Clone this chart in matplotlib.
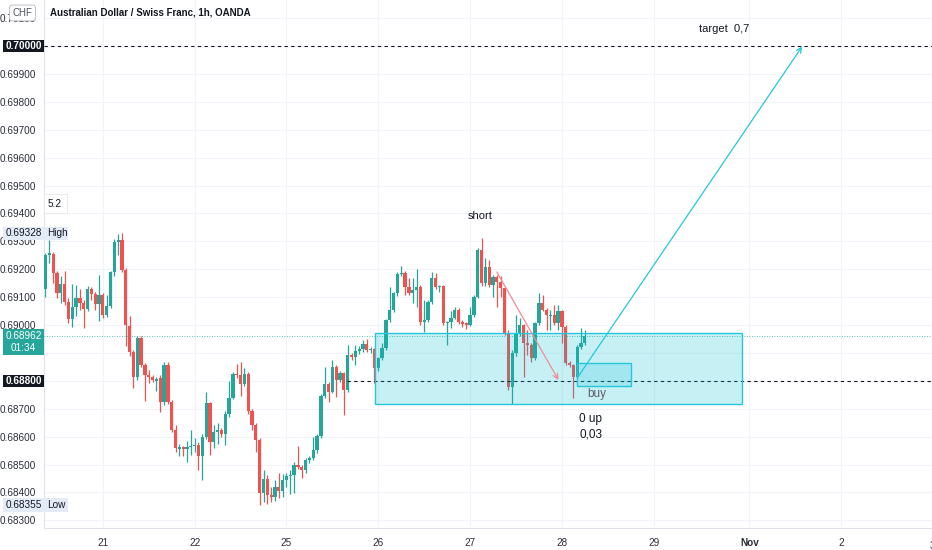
import numpy as np
import matplotlib
matplotlib.use("Agg")
import matplotlib.pyplot as plt
from matplotlib.patches import Rectangle

plt.rcParams['font.family'] = ['Liberation Sans Narrow', 'Liberation Sans', 'DejaVu Sans']

# AUD/CHF 1h candles, Oct 20 09:00 .. Oct 28 06:00
opens = [0.69129, 0.69251, 0.69256, 0.69187, 0.69115, 0.69147, 0.69082, 0.69022, 0.69064, 0.69097,
         0.69079, 0.69057, 0.69129, 0.69111, 0.69075, 0.69108, 0.69036, 0.69068, 0.69190, 0.69297,
         0.69304, 0.69197, 0.68997, 0.68903, 0.68814, 0.68953, 0.68856, 0.68821, 0.68814, 0.68800,
         0.68810, 0.68724, 0.68856, 0.68724, 0.68624, 0.68557, 0.68562, 0.68555, 0.68562, 0.68568,
         0.68570, 0.68529, 0.68598, 0.68720, 0.68580, 0.68616, 0.68622, 0.68610, 0.68680, 0.68740,
         0.68826, 0.68820, 0.68790, 0.68826, 0.68690, 0.68641, 0.68588, 0.68397, 0.68447, 0.68390,
         0.68385, 0.68418, 0.68405, 0.68444, 0.68458, 0.68462, 0.68498, 0.68492, 0.68480, 0.68516,
         0.68522, 0.68552, 0.68602, 0.68745, 0.68789, 0.68761, 0.68851, 0.68803, 0.68827, 0.68767,
         0.68892, 0.68886, 0.68906, 0.68915, 0.68932, 0.68910, 0.68913, 0.68845, 0.68881, 0.68918,
         0.69018, 0.69054, 0.69114, 0.69182, 0.69185, 0.69137, 0.69114, 0.69125, 0.69137, 0.69012,
         0.69018, 0.69083, 0.69167, 0.69137, 0.69140, 0.69006, 0.69012, 0.69025, 0.69054, 0.69012,
         0.69006, 0.69000, 0.69036, 0.69101, 0.69269, 0.69149, 0.69209, 0.69143, 0.69173, 0.69155,
         0.69131, 0.68970, 0.68779, 0.68899, 0.68968, 0.69000, 0.68934, 0.68928, 0.68880, 0.69006,
         0.69080, 0.69054, 0.69032, 0.69036, 0.69006, 0.69050, 0.68994, 0.68863, 0.68857, 0.68815,
         0.68922, 0.68937]
highs = [0.69258, 0.69305, 0.69262, 0.69195, 0.69175, 0.69195, 0.69097, 0.69147, 0.69145, 0.69130,
         0.69090, 0.69140, 0.69137, 0.69120, 0.69180, 0.69115, 0.69108, 0.69195, 0.69308, 0.69326,
         0.69328, 0.69204, 0.69032, 0.68910, 0.68960, 0.68960, 0.68863, 0.68838, 0.68820, 0.68815,
         0.68820, 0.68868, 0.68868, 0.68730, 0.68641, 0.68575, 0.68568, 0.68584, 0.68624, 0.68595,
         0.68580, 0.68610, 0.68760, 0.68725, 0.68640, 0.68648, 0.68630, 0.68690, 0.68800, 0.68830,
         0.68862, 0.68868, 0.68845, 0.68830, 0.68700, 0.68650, 0.68595, 0.68480, 0.68462, 0.68420,
         0.68444, 0.68470, 0.68465, 0.68470, 0.68480, 0.68510, 0.68566, 0.68500, 0.68525, 0.68530,
         0.68600, 0.68610, 0.68752, 0.68850, 0.68795, 0.68874, 0.68855, 0.68835, 0.68832, 0.68928,
         0.68900, 0.68928, 0.68925, 0.68945, 0.68950, 0.68920, 0.68918, 0.68885, 0.68935, 0.69022,
         0.69137, 0.69118, 0.69190, 0.69211, 0.69195, 0.69167, 0.69170, 0.69199, 0.69142, 0.69090,
         0.69088, 0.69191, 0.69188, 0.69145, 0.69145, 0.69015, 0.69050, 0.69066, 0.69060, 0.69018,
         0.69012, 0.69066, 0.69108, 0.69275, 0.69311, 0.69239, 0.69233, 0.69180, 0.69180, 0.69176,
         0.69135, 0.68982, 0.68910, 0.69036, 0.69025, 0.69005, 0.68982, 0.68935, 0.69012, 0.69114,
         0.69107, 0.69060, 0.69054, 0.69072, 0.69072, 0.69055, 0.69000, 0.68870, 0.68862, 0.68928,
         0.68989, 0.68982]
lows = [0.69100, 0.69222, 0.69150, 0.69098, 0.69079, 0.69072, 0.69007, 0.68993, 0.69032, 0.69055,
        0.68989, 0.69050, 0.69090, 0.69055, 0.69014, 0.69025, 0.69030, 0.69060, 0.69175, 0.69252,
        0.69190, 0.68925, 0.68889, 0.68774, 0.68803, 0.68849, 0.68728, 0.68792, 0.68796, 0.68762,
        0.68689, 0.68715, 0.68718, 0.68615, 0.68545, 0.68530, 0.68530, 0.68510, 0.68534, 0.68545,
        0.68480, 0.68444, 0.68590, 0.68534, 0.68560, 0.68574, 0.68600, 0.68570, 0.68670, 0.68735,
        0.68810, 0.68745, 0.68780, 0.68680, 0.68624, 0.68545, 0.68355, 0.68364, 0.68360, 0.68365,
        0.68370, 0.68380, 0.68385, 0.68420, 0.68395, 0.68398, 0.68485, 0.68450, 0.68470, 0.68505,
        0.68515, 0.68540, 0.68595, 0.68740, 0.68725, 0.68755, 0.68743, 0.68795, 0.68677, 0.68760,
        0.68875, 0.68856, 0.68895, 0.68905, 0.68905, 0.68900, 0.68792, 0.68835, 0.68875, 0.68910,
        0.69010, 0.69045, 0.69105, 0.69175, 0.69107, 0.69108, 0.69078, 0.69066, 0.69000, 0.68976,
        0.69010, 0.69075, 0.69130, 0.69120, 0.69000, 0.68928, 0.68990, 0.69020, 0.69005, 0.68994,
        0.68985, 0.68995, 0.69030, 0.69095, 0.69140, 0.69140, 0.69135, 0.69101, 0.69066, 0.69101,
        0.68965, 0.68767, 0.68716, 0.68890, 0.68960, 0.68815, 0.68892, 0.68868, 0.68875, 0.69000,
        0.69050, 0.68982, 0.68982, 0.69000, 0.68982, 0.68935, 0.68858, 0.68850, 0.68737, 0.68810,
        0.68915, 0.68930]
closes = [0.69251, 0.69258, 0.69187, 0.69115, 0.69147, 0.69082, 0.69022, 0.69064, 0.69097, 0.69079,
          0.69057, 0.69129, 0.69111, 0.69075, 0.69108, 0.69036, 0.69068, 0.69190, 0.69297, 0.69304,
          0.69197, 0.69000, 0.68903, 0.68814, 0.68953, 0.68856, 0.68821, 0.68814, 0.68803, 0.68806,
          0.68724, 0.68856, 0.68724, 0.68624, 0.68559, 0.68562, 0.68555, 0.68562, 0.68568, 0.68570,
          0.68529, 0.68598, 0.68720, 0.68580, 0.68616, 0.68622, 0.68610, 0.68680, 0.68740, 0.68826,
          0.68820, 0.68790, 0.68826, 0.68690, 0.68641, 0.68588, 0.68397, 0.68447, 0.68390, 0.68385,
          0.68418, 0.68405, 0.68444, 0.68458, 0.68462, 0.68498, 0.68492, 0.68480, 0.68516, 0.68522,
          0.68552, 0.68602, 0.68745, 0.68789, 0.68761, 0.68851, 0.68803, 0.68827, 0.68767, 0.68892,
          0.68886, 0.68906, 0.68915, 0.68932, 0.68910, 0.68913, 0.68845, 0.68881, 0.68918, 0.69018,
          0.69054, 0.69114, 0.69182, 0.69185, 0.69137, 0.69114, 0.69125, 0.69137, 0.69012, 0.69018,
          0.69083, 0.69167, 0.69137, 0.69140, 0.69006, 0.69012, 0.69025, 0.69054, 0.69012, 0.69002,
          0.69000, 0.69036, 0.69101, 0.69269, 0.69149, 0.69209, 0.69143, 0.69173, 0.69155, 0.69131,
          0.68970, 0.68779, 0.68899, 0.68968, 0.69000, 0.68934, 0.68928, 0.68880, 0.69006, 0.69080,
          0.69054, 0.69036, 0.69036, 0.69006, 0.69050, 0.68994, 0.68863, 0.68857, 0.68815, 0.68922,
          0.68937, 0.68962]

# day labels -> bar index of the first hour of that day
day_labels = ['21', '22', '25', '26', '27', '28', '29', 'Nov', '2', '3']
day_index = [15, 39, 63, 87, 111, 135, 159, 184, 208, 232]

price_ticks = np.round(np.arange(0.683, 0.7015, 0.001), 3)

high_price = 0.69328
low_price = 0.68355
target_price = 0.70000
support_price = 0.68800
last_price = closes[-1]

# drawings
zone_x = [86.1, 182.1]
zone_y = [0.68717, 0.68971]
buy_x = [138.95, 153.1]
buy_y = [0.68781, 0.68864]
short_arrow = [(118.0, 0.69190), (134.1, 0.68803)]
long_arrow = [(139.0, 0.68810), (197.8, 0.69998)]

green = '#26a69a'
red = '#ef5350'
grid_c = '#f0f3fa'
text_c = '#131722'
axis_text = '#2a2e39'

fig = plt.figure(figsize=(9.32, 5.5), dpi=100)
ax = fig.add_axes([44 / 932, 22 / 550, 888 / 932, 528 / 550])
ax.set_xlim(-0.39, 231.76)
ax.set_ylim(0.682724, 0.701649)

# grid
for p in price_ticks:
    ax.axhline(p, color=grid_c, lw=0.8, zorder=0)
for d in day_index:
    ax.axvline(d, color=grid_c, lw=0.8, zorder=0)

# candles
idx = np.arange(len(opens))
o = np.array(opens)
c = np.array(closes)
cols = [green if cc >= oo else red for oo, cc in zip(o, c)]
ax.vlines(idx, lows, highs, colors=cols, lw=0.9, zorder=2)
body = np.maximum(np.abs(c - o), 0.00003)
ax.bar(idx, body, bottom=np.minimum(o, c), width=0.85, color=cols, lw=0, zorder=3)

# horizontal levels
ax.axhline(target_price, color=text_c, lw=0.8, ls=(0, (3, 3)), zorder=4)
ax.hlines(support_price, 78.8, 231.76, color=text_c, lw=0.8, ls=(0, (3, 3)), zorder=4)
ax.axhline(last_price, color=green, lw=0.6, ls=(0, (1, 2)), zorder=4)

# zones
ax.add_patch(Rectangle((zone_x[0], zone_y[0]), zone_x[1] - zone_x[0], zone_y[1] - zone_y[0],
                       fc=(0.0, 0.74, 0.83, 0.22), ec='#26c6da', lw=1, zorder=5))
ax.add_patch(Rectangle((buy_x[0], buy_y[0]), buy_x[1] - buy_x[0], buy_y[1] - buy_y[0],
                       fc=(0.0, 0.74, 0.83, 0.18), ec='#26c6da', lw=1, zorder=5))

# arrows
ax.annotate('', xy=short_arrow[1], xytext=short_arrow[0],
            arrowprops=dict(arrowstyle='->', color='#f28b95', lw=0.9, shrinkA=0, shrinkB=0,
                            mutation_scale=9), zorder=6)
ax.annotate('', xy=long_arrow[1], xytext=long_arrow[0],
            arrowprops=dict(arrowstyle='->', color='#26c6da', lw=0.9, shrinkA=0, shrinkB=0,
                            mutation_scale=9), zorder=6)

# texts on chart
ax.text(113.6, 0.69391, 'short', ha='center', va='center', fontsize=8, color=text_c)
ax.text(177.4, 0.70061, 'target  0,7', ha='center', va='center', fontsize=8, color=text_c)
ax.text(141.6, 0.68753, 'buy', ha='left', va='center', fontsize=8.5, color='#5d606b', zorder=7)
ax.text(139.5, 0.68663, '0 up', ha='left', va='center', fontsize=8.5, color=text_c)
ax.text(139.5, 0.68609, '0,03', ha='left', va='center', fontsize=8.5, color=text_c)

# axes styling
for s in ['top', 'right']:
    ax.spines[s].set_visible(False)
for s in ['left', 'bottom']:
    ax.spines[s].set_color('#e0e3eb')
    ax.spines[s].set_linewidth(0.8)

hidden = [0.700, 0.689, 0.688]
ax.set_yticks(price_ticks)
ax.set_yticklabels(['' if p in hidden else '%.5f' % p for p in price_ticks])
ax.tick_params(axis='y', length=0, pad=6, labelsize=7.2, labelcolor=axis_text)
ax.set_xticks(day_index[:-1])
ax.set_xticklabels(day_labels[:-1])
ax.tick_params(axis='x', length=0, pad=7, labelsize=7.2, labelcolor=axis_text)
for lab in ax.get_xticklabels():
    if lab.get_text() == 'Nov':
        lab.set_fontweight('bold')
ax.text(day_index[-1], -0.025, day_labels[-1], transform=ax.get_xaxis_transform(),
        ha='center', va='top', fontsize=7.2, color=axis_text)

# price scale badges
yt = ax.get_yaxis_transform()
bw = 41 / 888


def badge(price, half, label, fc, tc, bold=False):
    ax.add_patch(Rectangle((-bw, price - half), bw, 2 * half, transform=yt, fc=fc, ec='none',
                           clip_on=False, zorder=10))
    ax.text(-bw / 2, price, label, transform=yt, ha='center', va='center', fontsize=7.2,
            color=tc, fontweight='bold' if bold else 'normal', zorder=11, clip_on=False)


badge(target_price, 0.000215, '%.5f' % target_price, '#131722', 'white', True)
badge(support_price, 0.000215, '%.5f' % support_price, '#131722', 'white', True)
badge(high_price, 0.00025, '%.5f' % high_price, '#e3ebf7', '#131722')
badge(low_price, 0.00025, '%.5f' % low_price, '#e3ebf7', '#131722')

# current price badge with countdown
ax.add_patch(Rectangle((-bw, 0.688925), bw, 0.000932, transform=yt, fc=green, ec='none',
                       clip_on=False, zorder=10))
ax.text(-bw / 2, 0.68959, '%.5f' % last_price, transform=yt, ha='center', va='center',
        fontsize=7.2, color='white', zorder=11)
ax.text(-bw / 2, 0.68918, '01:34', transform=yt, ha='center', va='center',
        fontsize=7.2, color='white', zorder=11)

# High / Low tags inside the pane
for price, name in [(high_price, 'High'), (low_price, 'Low')]:
    ax.add_patch(Rectangle((0, price - 0.00025), 24 / 888, 0.0005, transform=yt,
                           fc='#e3ebf7', ec='none', zorder=10))
    ax.text(3 / 888, price, name, transform=yt, ha='left', va='center', fontsize=7.2,
            color='#131722', zorder=11)

# small value box
ax.text(4 / 888, 0.69435, '5.2', transform=yt, ha='left', va='center', fontsize=7.2,
        color='#131722', zorder=11,
        bbox=dict(boxstyle='square,pad=0.45', fc='white', ec='#e6e6e6', lw=0.6))

# currency box and title
ax.text(-21.5 / 888, 0.9754, 'CHF', transform=ax.transAxes, ha='center', va='center',
        fontsize=7, color='#50535e', zorder=12,
        bbox=dict(boxstyle='round,pad=0.3,rounding_size=0.25', fc='white', ec='#b2b5be', lw=0.6))
ax.text(6 / 888, 0.9754, 'Australian Dollar / Swiss Franc, 1h, OANDA', transform=ax.transAxes,
        ha='left', va='center', fontsize=7, fontweight='bold', color=text_c, zorder=12)

fig.savefig('out.png', dpi=100)
